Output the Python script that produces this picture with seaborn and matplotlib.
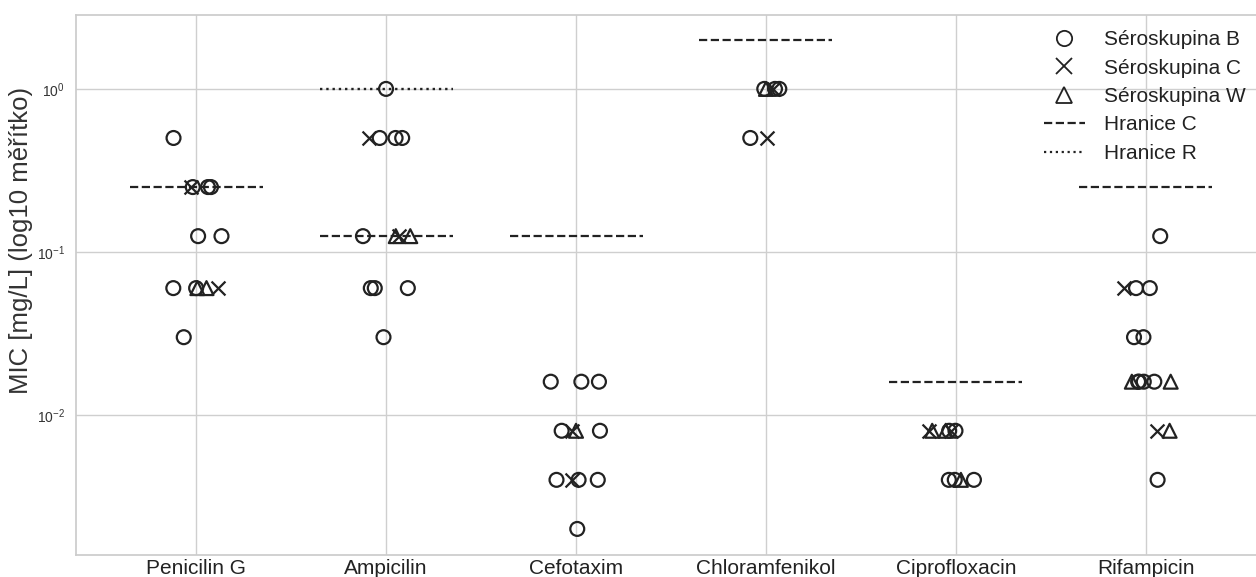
import numpy as np
import pandas as pd
import matplotlib
matplotlib.use("Agg")
import matplotlib.pyplot as plt
import seaborn as sns
from matplotlib.lines import Line2D

# ---------------- data ----------------
antibiotics = ["Penicilin G", "Ampicilin", "Cefotaxim", "Chloramfenikol",
               "Ciprofloxacin", "Rifampicin"]

# MIC values (mg/L) per serogroup, one list per antibiotic (same order as above)
mic_B = [
    [0.5, 0.25, 0.25, 0.25, 0.125, 0.125, 0.06, 0.06, 0.03],
    [1.0, 0.5, 0.5, 0.5, 0.125, 0.06, 0.06, 0.06, 0.03],
    [0.016, 0.016, 0.016, 0.008, 0.008, 0.004, 0.004, 0.004, 0.002],
    [1.0, 1.0, 1.0, 0.5],
    [0.008, 0.008, 0.004, 0.004, 0.004],
    [0.125, 0.06, 0.06, 0.03, 0.03, 0.016, 0.016, 0.016, 0.016, 0.004],
]
mic_C = [
    [0.25, 0.06],
    [0.5, 0.125],
    [0.008, 0.004],
    [1.0, 0.5],
    [0.008, 0.008],
    [0.06, 0.008],
]
mic_W = [
    [0.06, 0.06],
    [0.125, 0.125],
    [0.008],
    [1.0],
    [0.008, 0.008, 0.004],
    [0.016, 0.016, 0.008],
]

breakpoint_C = [0.25, 0.125, 0.125, 2.0, 0.016, 0.25]
breakpoint_R = [np.nan, 1.0, np.nan, np.nan, np.nan, np.nan]

group_labels = ["Séroskupina B", "Séroskupina C", "Séroskupina W"]
line_labels = ["Hranice C", "Hranice R"]
y_label = "MIC [mg/L] (log10 měřítko)"

# long-form table
rows = []
for grp, series in zip(group_labels, [mic_B, mic_C, mic_W]):
    for ab, vals in zip(antibiotics, series):
        for v in vals:
            rows.append({"antibiotic": ab, "group": grp, "mic": v})
df = pd.DataFrame(rows)

# ---------------- plot ----------------
sns.set_theme(style="whitegrid")
plt.rcParams["font.family"] = ["Liberation Sans", "DejaVu Sans"]

W, H = 1256, 577
fig = plt.figure(figsize=(W / 100, H / 100), dpi=100)
ax = fig.add_axes([76 / W, 22 / H, 1190 / W, 540 / H])

ink = "#222222"
markers = ["o", "x", "^"]
np.random.seed(7)
for grp, mk in zip(group_labels, markers):
    sub = df[df["group"] == grp]
    kw = dict(data=sub, x="antibiotic", y="mic", order=antibiotics,
              jitter=0.14, marker=mk, size=10, linewidth=1.6,
              color=ink, edgecolor=ink, ax=ax, zorder=3)
    if mk != "x":
        kw["facecolors"] = "none"
    sns.stripplot(**kw)

for i, (c, r) in enumerate(zip(breakpoint_C, breakpoint_R)):
    ax.plot([i - 0.35, i + 0.35], [c, c], color=ink, ls="--", lw=1.6, zorder=2)
    if not np.isnan(r):
        ax.plot([i - 0.35, i + 0.35], [r, r], color=ink, ls=":", lw=1.7, zorder=2)

ax.set_yscale("log")
ax.set_ylim(0.001384, 2.84)
ax.set_xlim(-0.632, 5.632)
ax.xaxis.grid(True)
ax.yaxis.grid(True, which="major")
ax.grid(True, color="#cfcfcf", lw=1.0)
ax.set_axisbelow(True)

ax.set_xlabel("")
ax.set_ylabel(y_label, fontsize=18.5, color="#333333")
ax.yaxis.set_label_coords(-0.036, 0.583)
ax.tick_params(axis="x", length=0, pad=3, labelsize=15, labelcolor="#222222")
ax.tick_params(axis="y", length=0, pad=8, labelsize=10, labelcolor="#333333")

handles = [
    Line2D([], [], ls="none", marker="o", markerfacecolor="none",
           markeredgecolor=ink, markersize=11, markeredgewidth=1.3),
    Line2D([], [], ls="none", marker="x", color=ink, markersize=11,
           markeredgewidth=1.3),
    Line2D([], [], ls="none", marker="^", markerfacecolor="none",
           markeredgecolor=ink, markersize=11, markeredgewidth=1.3),
    Line2D([], [], color=ink, ls="--", lw=1.6),
    Line2D([], [], color=ink, ls=":", lw=1.6),
]
ax.legend(handles, group_labels + line_labels, loc="upper right",
          bbox_to_anchor=(1254 / W, 1 - 22 / H), bbox_transform=fig.transFigure,
          borderaxespad=0, frameon=False, fontsize=15, handlelength=2.0,
          handletextpad=0.9, labelspacing=0.45, labelcolor="#222222")

fig.savefig("out.png", dpi=100)
